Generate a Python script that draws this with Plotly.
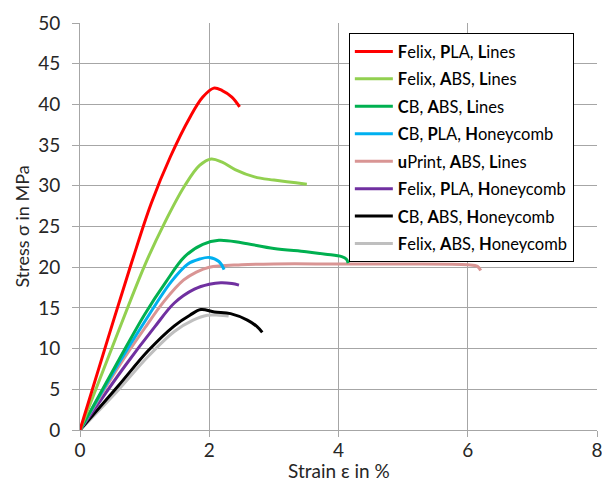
import plotly.graph_objects as go

names = ["<b>F</b>elix, <b>P</b>LA, <b>L</b>ines",
         "<b>F</b>elix, <b>A</b>BS, <b>L</b>ines",
         "<b>C</b>B, <b>A</b>BS, <b>L</b>ines",
         "<b>C</b>B, <b>P</b>LA, <b>H</b>oneycomb",
         "<b>u</b>Print, <b>A</b>BS, <b>L</b>ines",
         "<b>F</b>elix, <b>P</b>LA, <b>H</b>oneycomb",
         "<b>C</b>B, <b>A</b>BS, <b>H</b>oneycomb",
         "<b>F</b>elix, <b>A</b>BS, <b>H</b>oneycomb"]
colors = ["#ff0000", "#92d050", "#00b050", "#00b0f0", "#d99594", "#7030a0", "#000000", "#bfbfbf"]

felix_pla_lines_x = [0, 0.4, 0.8, 1.1, 1.4, 1.7, 1.9, 2.07, 2.2, 2.35, 2.47]
felix_pla_lines_y = [0, 10.4, 20.6, 27.8, 33.6, 38.4, 40.9, 42.0, 41.7, 40.9, 39.7]

felix_abs_lines_x = [0, 0.5, 1.0, 1.3, 1.62, 1.85, 2.03, 2.2, 2.4, 2.7, 3.0, 3.51]
felix_abs_lines_y = [0, 10.2, 20.2, 25.3, 30.0, 32.5, 33.3, 32.9, 32.0, 31.1, 30.7, 30.2]

cb_abs_lines_x = [0, 0.6, 1.0, 1.33, 1.62, 1.9, 2.15, 2.5, 3.0, 3.5, 3.8, 4.05, 4.12, 4.15]
cb_abs_lines_y = [0, 8.6, 14.2, 18.2, 21.3, 22.8, 23.3, 23.0, 22.3, 21.9, 21.6, 21.3, 21.0, 20.5]

cb_pla_honey_x = [0, 0.6, 1.0, 1.41, 1.67, 1.85, 2.0, 2.15, 2.23]
cb_pla_honey_y = [0, 8.2, 13.3, 18.2, 20.4, 21.0, 21.2, 20.7, 19.7]

uprint_abs_lines_x = [0, 0.6, 1.0, 1.3, 1.6, 1.8, 2.0, 2.5, 3.0, 4.0, 5.0, 6.0, 6.15, 6.2]
uprint_abs_lines_y = [0, 7.8, 12.5, 15.8, 18.4, 19.4, 20.0, 20.3, 20.4, 20.4, 20.4, 20.3, 20.1, 19.6]

felix_pla_honey_x = [0, 0.69, 1.15, 1.46, 1.77, 2.0, 2.18, 2.35, 2.46]
felix_pla_honey_y = [0, 7.8, 12.6, 15.6, 17.3, 17.9, 18.1, 18.0, 17.8]

cb_abs_honey_x = [0, 0.59, 1.05, 1.46, 1.7, 1.87, 2.08, 2.33, 2.59, 2.74, 2.82]
cb_abs_honey_y = [0, 5.4, 9.7, 12.8, 14.1, 14.8, 14.5, 14.3, 13.5, 12.7, 12.0]

felix_abs_honey_x = [0, 0.59, 1.05, 1.46, 1.75, 1.97, 2.15, 2.3]
felix_abs_honey_y = [0, 4.9, 9.0, 12.1, 13.5, 14.1, 14.1, 14.0]

xs = [felix_pla_lines_x, felix_abs_lines_x, cb_abs_lines_x, cb_pla_honey_x,
      uprint_abs_lines_x, felix_pla_honey_x, cb_abs_honey_x, felix_abs_honey_x]
ys = [felix_pla_lines_y, felix_abs_lines_y, cb_abs_lines_y, cb_pla_honey_y,
      uprint_abs_lines_y, felix_pla_honey_y, cb_abs_honey_y, felix_abs_honey_y]

x_ticks = [0, 2, 4, 6, 8]
y_ticks = [0, 5, 10, 15, 20, 25, 30, 35, 40, 45, 50]
x_title = "Strain ε in %"
y_title = "Stress σ in MPa"

fig = go.Figure()
for i in range(len(names))[::-1]:
    fig.add_trace(go.Scatter(x=xs[i], y=ys[i], mode="lines", name=names[i],
                             line=dict(color=colors[i], width=3, shape="spline", smoothing=1.0),
                             legendgroup=str(i), legendrank=i + 1))

grid = "#a6a6a6"
fig.update_layout(
    width=602, height=493,
    margin=dict(l=80, r=5, t=23, b=63),
    paper_bgcolor="white", plot_bgcolor="white",
    font=dict(family="Lato, Open Sans, sans-serif", size=19, color="#262626"),
    showlegend=True,
    legend=dict(x=0.52, y=0.975, xanchor="left", yanchor="top",
                bgcolor="white", bordercolor="#000000", borderwidth=1,
                font=dict(size=16.5, color="#000000"), itemwidth=38,
                tracegroupgap=3, traceorder="grouped"),
    xaxis=dict(range=[0, 8], tickvals=x_ticks, showgrid=True, gridcolor=grid, gridwidth=1,
               showline=True, linecolor=grid, linewidth=1, ticks="outside", ticklen=6,
               tickcolor=grid, zeroline=False, automargin=False, ticklabeloverflow="allow",
               ticklabelstandoff=-3),
    yaxis=dict(range=[0, 50], tickvals=y_ticks, showgrid=True, gridcolor=grid, gridwidth=1,
               showline=True, linecolor=grid, linewidth=1, ticks="outside", ticklen=7,
               tickcolor=grid, zeroline=False, automargin=False, ticklabelstandoff=8,
               title=dict(text=y_title, standoff=3, font=dict(size=18))),
    annotations=[dict(text=x_title, xref="paper", yref="paper", x=0.5, y=-0.1,
                      xanchor="center", yanchor="middle", showarrow=False,
                      font=dict(size=19, color="#262626"))],
)

fig.write_html("out.html", config={"displayModeBar": False},
               post_script="document.body.style.margin='0';")
